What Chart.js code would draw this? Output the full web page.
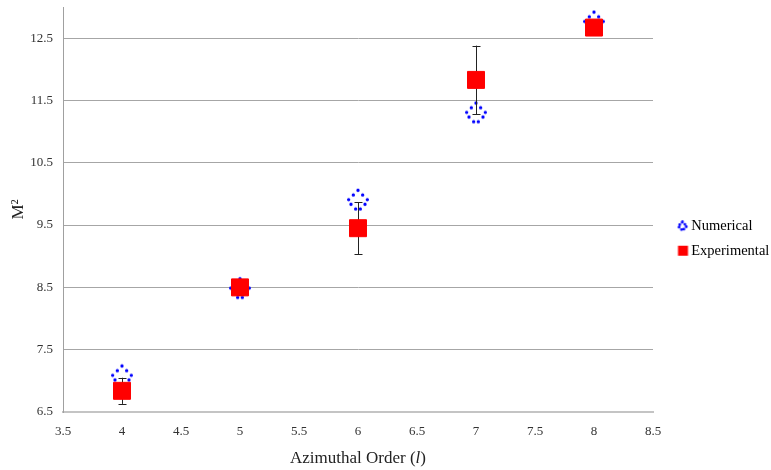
<!DOCTYPE html>
<html>
<head>
<meta charset="utf-8">
<script src="https://cdn.jsdelivr.net/npm/chart.js@4.4.1/dist/chart.umd.min.js"></script>
<style>
html,body{margin:0;padding:0;background:#fff;}
#wrap{width:771px;height:470px;}
</style>
</head>
<body>
<div id="wrap"><canvas id="c" width="771" height="470"></canvas></div>
<script>
// ---- data ----
const orders = [4, 5, 6, 7, 8];
const numericalM2 = [7.07, 8.47, 9.89, 11.29, 12.75];
const experimentalM2 = [6.84, 8.50, 9.45, 11.83, 12.67];
const experimentalErr = [0.21, 0.12, 0.42, 0.55, 0.10];
const xTicks = [3.5, 4, 4.5, 5, 5.5, 6, 6.5, 7, 7.5, 8, 8.5];
const yTicks = [6.5, 7.5, 8.5, 9.5, 10.5, 11.5, 12.5];
const seriesNames = ['Numerical', 'Experimental'];

// dotted diamond marker (cx offset allows legend placement inside a wider image)
function dottedDiamond(w, h, cx, r, lw, gap) {
  const cv = document.createElement('canvas');
  cv.width = w; cv.height = h;
  const g = cv.getContext('2d');
  const cy = h / 2;
  g.strokeStyle = '#0000ff';
  g.lineWidth = lw;
  g.lineCap = 'round';
  g.setLineDash([0, gap]);
  g.beginPath();
  g.moveTo(cx, cy - r); g.lineTo(cx + r, cy); g.lineTo(cx, cy + r); g.lineTo(cx - r, cy); g.closePath();
  g.stroke();
  return cv;
}
function squareMark(w, h, x0, side) {
  const cv = document.createElement('canvas');
  cv.width = w; cv.height = h;
  const g = cv.getContext('2d');
  g.fillStyle = '#ff0000';
  g.fillRect(x0, (h - side) / 2, side, side);
  return cv;
}
const bigDiamond = dottedDiamond(26, 26, 13, 10.5, 3.4, 6.6);
const legendDiamond = dottedDiamond(40, 12, 29, 4.3, 2.8, 3.4);
const legendSquare = squareMark(40, 12, 24.5, 10);

const errorBars = {
  id: 'errorBars',
  beforeDatasetDraw(chart, args) {
    if (args.index !== 1) return;
    const ctx = chart.ctx, xs = chart.scales.x, ys = chart.scales.y;
    ctx.save();
    ctx.strokeStyle = '#222';
    ctx.lineWidth = 1;
    orders.forEach((o, i) => {
      const x = Math.round(xs.getPixelForValue(o)) + 0.5;
      const yt = ys.getPixelForValue(experimentalM2[i] + experimentalErr[i]);
      const yb = ys.getPixelForValue(experimentalM2[i] - experimentalErr[i]);
      ctx.beginPath();
      ctx.moveTo(x, yt); ctx.lineTo(x, yb);
      ctx.moveTo(x - 4, Math.round(yt) + 0.5); ctx.lineTo(x + 4, Math.round(yt) + 0.5);
      ctx.moveTo(x - 4, Math.round(yb) + 0.5); ctx.lineTo(x + 4, Math.round(yb) + 0.5);
      ctx.stroke();
    });
    ctx.restore();
  }
};

const xTitlePlugin = {
  id: 'xTitleItalic',
  afterDraw(chart) {
    const xs = chart.scales.x;
    const ctx = chart.ctx;
    const size = 17;
    const reg = size + 'px "Liberation Serif"';
    const ital = 'italic ' + size + 'px "Liberation Serif"';
    const parts = [['Azimuthal Order (', reg], ['l', ital], [')', reg]];
    ctx.save();
    let total = 0;
    parts.forEach(p => { ctx.font = p[1]; total += ctx.measureText(p[0]).width; });
    let x = (chart.chartArea.left + chart.chartArea.right) / 2 - total / 2;
    const y = xs.bottom - 1 - size * 1.2 / 2;
    ctx.fillStyle = '#222';
    ctx.textBaseline = 'middle';
    ctx.textAlign = 'left';
    parts.forEach(p => { ctx.font = p[1]; ctx.fillText(p[0], x, y); x += ctx.measureText(p[0]).width; });
    ctx.restore();
  }
};

new Chart(document.getElementById('c'), {
  type: 'scatter',
  data: {
    datasets: [
      {
        label: seriesNames[0],
        order: 1,
        data: orders.map((o, i) => ({x: o, y: numericalM2[i]})),
        pointStyle: bigDiamond,
        backgroundColor: '#0000ff',
        borderColor: '#0000ff'
      },
      {
        label: seriesNames[1],
        order: 0,
        data: orders.map((o, i) => ({x: o, y: experimentalM2[i]})),
        pointStyle: 'rect',
        pointRadius: 12,
        pointHoverRadius: 12,
        borderWidth: 1,
        backgroundColor: '#ff0000',
        borderColor: '#ff0000'
      }
    ]
  },
  options: {
    responsive: false,
    animation: false,
    events: [],
    layout: { autoPadding: false, padding: { left: 0, right: 0, top: 7, bottom: 0 } },
    plugins: {
      tooltip: { enabled: false },
      legend: {
        position: 'right',
        maxWidth: 118,
        labels: {
          usePointStyle: true,
          pointStyleWidth: 21,
          boxWidth: 21,
          boxHeight: 12,
          padding: 10,
          color: '#111',
          font: { family: '"Liberation Serif"', size: 14.5 },
          generateLabels(chart) {
            return [
              { text: seriesNames[0], pointStyle: legendDiamond, fillStyle: '#0000ff', strokeStyle: '#0000ff', lineWidth: 0, datasetIndex: 0, hidden: false },
              { text: seriesNames[1], pointStyle: legendSquare, fillStyle: '#ff0000', strokeStyle: '#ff0000', lineWidth: 0, datasetIndex: 1, hidden: false }
            ];
          }
        }
      }
    },
    scales: {
      x: {
        type: 'linear',
        min: 3.5, max: 8.5,
        afterBuildTicks(s) { s.ticks = xTicks.map(v => ({value: v})); },
        afterFit(s) { s.height = 58; },
        grid: { display: false, drawTicks: false },
        border: { display: true, color: '#c4c4c4', width: 2 },
        ticks: { color: '#333', padding: 12, font: { family: '"Liberation Serif"', size: 13 }, maxRotation: 0, callback: v => String(v) },
        title: { display: true, text: 'Azimuthal Order (l)', color: 'rgba(0,0,0,0)', font: { family: '"Liberation Serif"', size: 17 }, padding: { top: 2, bottom: 1 } }
      },
      y: {
        type: 'linear',
        min: 6.5, max: 13,
        afterBuildTicks(s) { s.ticks = yTicks.map(v => ({value: v})); },
        afterFit(s) { s.width = 63; s.paddingTop = 0; s.paddingBottom = 0; },
        grid: { color: '#a6a6a6', lineWidth: 1, drawTicks: false },
        border: { display: true, color: '#a0a0a0', width: 1 },
        ticks: { color: '#333', padding: 10, font: { family: '"Liberation Serif"', size: 13 }, callback: v => String(v) },
        title: { display: true, text: 'M²', color: '#222', font: { family: '"Liberation Serif"', size: 17 }, padding: { top: 8, bottom: 4 } }
      }
    }
  },
  plugins: [errorBars, xTitlePlugin]
});
</script>
</body>
</html>
